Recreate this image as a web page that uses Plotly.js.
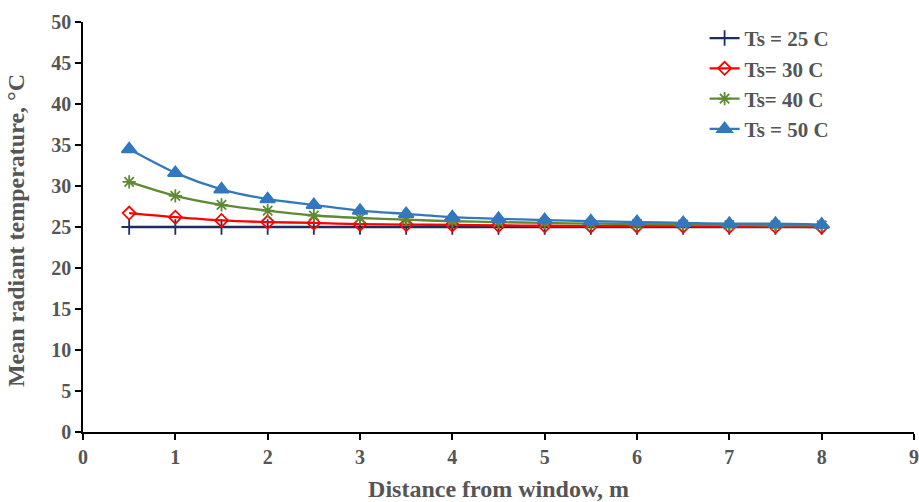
<!DOCTYPE html>
<html><head><meta charset="utf-8">
<script src="https://cdn.plot.ly/plotly-3.0.1.min.js"></script>
<style>body{margin:0;background:#fff}#c{width:919px;height:502px}</style>
</head><body><div id="c"></div>
<script>
const distance = [0.5,1,1.5,2,2.5,3,3.5,4,4.5,5,5.5,6,6.5,7,7.5,8];
const ts25 = [25,25,25,25,25,25,25,25,25,25,25,25,25,25,25,25];
const ts30 = [26.7,26.2,25.8,25.6,25.5,25.35,25.3,25.25,25.2,25.15,25.1,25.1,25.1,25.05,25.05,25.0];
const ts40 = [30.5,28.8,27.7,27.0,26.4,26.1,25.9,25.7,25.6,25.5,25.4,25.35,25.3,25.25,25.2,25.2];
const ts50 = [34.5,31.6,29.6,28.4,27.7,27.0,26.6,26.2,26.0,25.85,25.7,25.6,25.5,25.4,25.4,25.3];
const seriesNames = ['Ts = 25 C','Ts= 30 C','Ts= 40 C','Ts = 50 C'];
const yTicks = [0,5,10,15,20,25,30,35,40,45,50];
const xTicks = [0,1,2,3,4,5,6,7,8,9];

const font = 'Liberation Serif, Times New Roman, serif';
const mk = (y, name, color, symbol, size, lw) => ({
  x: distance, y: y, name: name, type: 'scatter', mode: 'lines+markers',
  line: {color: color, width: lw, shape: 'spline', smoothing: 0.8},
  marker: {color: color, symbol: symbol, size: size, line: {color: color, width: 1.8}}
});
const data = [
  mk(ts25, seriesNames[0], '#1f2d5c', 'cross-thin-open', 11, 2.3),
  mk(ts30, seriesNames[1], '#ff0000', 'diamond-open', 10, 2.3),
  mk(ts40, seriesNames[2], '#5e8a33', 'asterisk-open', 11, 2.3),
  mk(ts50, seriesNames[3], '#3378bd', 'triangle-up', 13, 2.3)
];
const layout = {
  width: 919, height: 502,
  margin: {l: 83, r: 5, t: 22, b: 70},
  paper_bgcolor: '#fff', plot_bgcolor: '#fff',
  showlegend: true,
  legend: {x: 0.748, y: 1.01, xanchor: 'left', yanchor: 'top',
    font: {family: font, size: 21, color: '#555', weight: 'bold'},
    bgcolor: 'rgba(0,0,0,0)', itemwidth: 30},
  xaxis: {range: [0, 9], tickvals: xTicks, ticktext: xTicks.map(String),
    showgrid: false, zeroline: false, showline: true, linecolor: '#000', linewidth: 1.5,
    ticks: 'outside', ticklen: 6, tickcolor: '#000', tickwidth: 1.5,
    tickfont: {family: font, size: 20, color: '#555', weight: 'bold'},
    title: {text: 'Distance from window, m', font: {family: font, size: 24, color: '#555', weight: 'bold'}, standoff: 13}},
  yaxis: {range: [0, 50], tickvals: yTicks, ticktext: yTicks.map(String),
    showgrid: false, zeroline: false, showline: true, linecolor: '#000', linewidth: 1.5,
    ticks: 'outside', ticklen: 6, tickcolor: '#000', tickwidth: 1.5,
    tickfont: {family: font, size: 20, color: '#555', weight: 'bold'},
    title: {text: ''}},
  annotations: [{text: 'Mean radiant temperature, °C', xref: 'paper', yref: 'paper',
    x: 0, y: 0.49, xshift: -67, textangle: -90, showarrow: false,
    xanchor: 'center', yanchor: 'middle',
    font: {family: font, size: 24, color: '#555', weight: 'bold'}}]
};
Plotly.newPlot('c', data, layout, {displayModeBar: false});
</script></body></html>
